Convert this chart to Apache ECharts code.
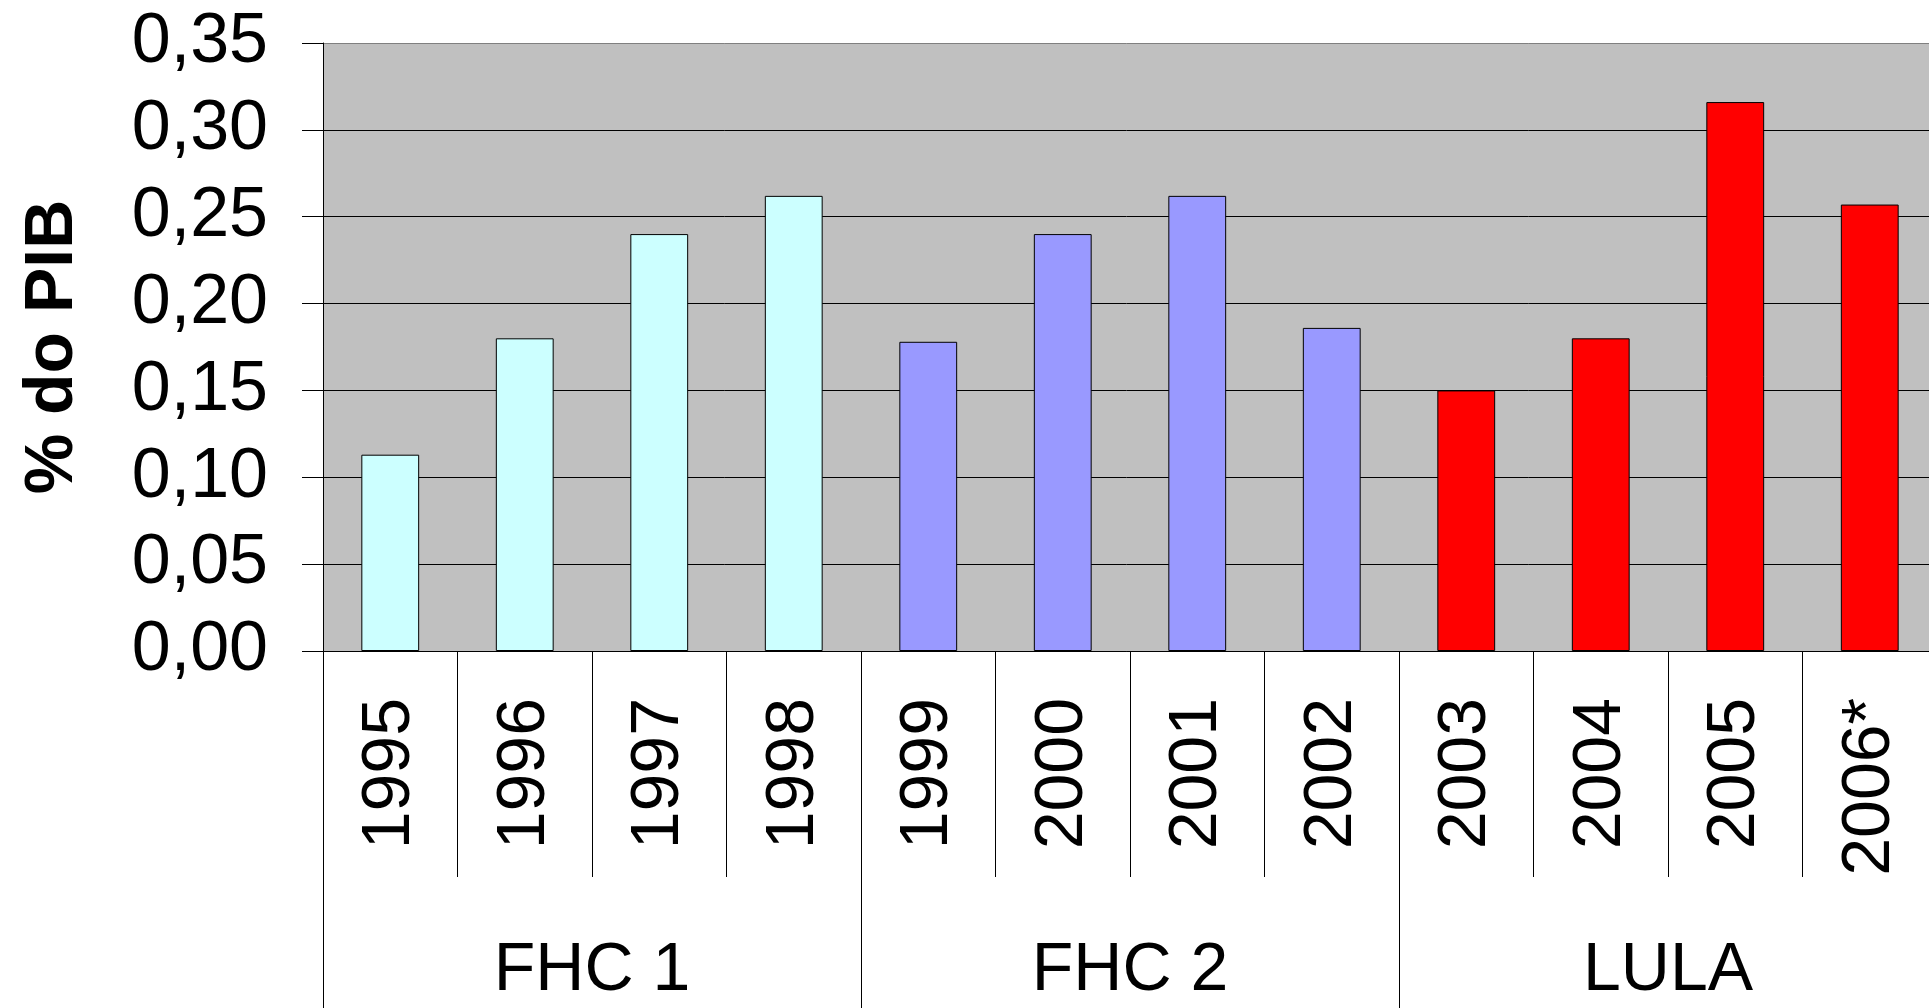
<!DOCTYPE html>
<html>
<head>
<meta charset="utf-8">
<script src="https://cdn.jsdelivr.net/npm/echarts@6/dist/echarts.min.js"></script>
<style>
  html, body { margin: 0; padding: 0; background: #fff; }
  #chart { width: 1929px; height: 1008px; }
</style>
</head>
<body>
<div id="chart"></div>
<script>
// dados
const years = ['1995', '1996', '1997', '1998', '1999', '2000', '2001', '2002', '2003', '2004', '2005', '2006*'];
const values = [0.113, 0.180, 0.240, 0.262, 0.178, 0.240, 0.262, 0.186, 0.150, 0.180, 0.316, 0.257];
const yearGroup = [0, 0, 0, 0, 1, 1, 1, 1, 2, 2, 2, 2];
const groups = ['FHC 1', 'FHC 2', 'LULA'];
const groupColors = ['#CCFFFF', '#9999FF', '#FF0000'];

const font = 'Liberation Sans, Arial, sans-serif';

const chart = echarts.init(document.getElementById('chart'));
const option = {
  animation: false,
  grid: {
    left: 323,
    top: 43,
    width: 1614, // a área do gráfico passa da borda direita
    bottom: 357,
    outerBoundsMode: 'none',
    show: true,
    backgroundColor: '#C0C0C0',
    borderWidth: 0
  },
  xAxis: [
    {
      type: 'category',
      data: years,
      position: 'bottom',
      boundaryGap: true,
      axisLine: { lineStyle: { color: '#000', width: 1 } },
      axisTick: {
        show: true,
        interval: 0,
        length: 226,
        lineStyle: { color: '#000', width: 1 }
      },
      axisLabel: {
        interval: 0,
        rotate: 90,
        margin: 47,
        color: '#000',
        fontFamily: font,
        fontSize: 68,
        padding: [0, 0, 18, 0]
      }
    },
    {
      type: 'category',
      data: groups,
      position: 'bottom',
      boundaryGap: true,
      axisLine: { show: false },
      axisTick: {
        show: true,
        interval: 0,
        length: 357,
        lineStyle: { color: '#000', width: 1 }
      },
      axisLabel: {
        interval: 0,
        margin: 286,
        color: '#000',
        fontFamily: font,
        fontSize: 68
      }
    }
  ],
  yAxis: {
    type: 'value',
    min: 0,
    max: 0.35,
    interval: 0.05,
    name: '% do PIB',
    nameLocation: 'middle',
    nameGap: 236,
    nameRotate: 90,
    nameTextStyle: {
      color: '#000',
      fontFamily: font,
      fontSize: 68,
      fontWeight: 'bold'
    },
    axisLine: { show: true, lineStyle: { color: '#000', width: 1 } },
    axisTick: { show: true, length: 21, lineStyle: { color: '#000', width: 1 } },
    axisLabel: {
      margin: 55,
      color: '#000',
      fontFamily: font,
      fontSize: 70,
      formatter: v => v.toFixed(2).replace('.', ',')
    },
    splitLine: {
      lineStyle: {
        color: ['#000', '#000', '#000', '#000', '#000', '#000', '#000', '#808080'],
        width: 1
      }
    }
  },
  series: [
    {
      type: 'bar',
      xAxisIndex: 0,
      data: values,
      barWidth: '43%',
      itemStyle: {
        color: p => groupColors[yearGroup[p.dataIndex]],
        borderColor: '#000',
        borderWidth: 1
      }
    }
  ]
};
chart.setOption(option);
</script>
</body>
</html>
